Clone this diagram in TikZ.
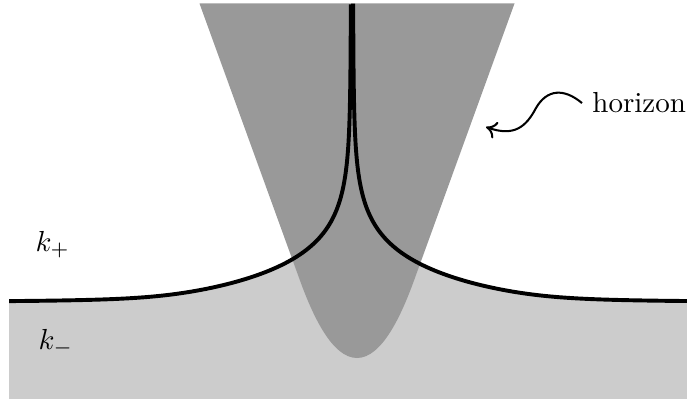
\documentclass[tikz,border=0pt]{standalone}
\usetikzlibrary{arrows.meta}
\definecolor{funnelgray}{gray}{0.6}
\definecolor{lowgray}{gray}{0.8}
\tikzset{
  curveline/.style={line width=1.35pt, line join=round},
  label/.style={inner sep=0pt, anchor=base west},
  pointer/.style={line width=0.7pt, -{To[length=3.6pt,width=6pt]}}
}
\begin{document}
\begin{tikzpicture}[x=0.345pt, y=-0.345pt,
  declare function={hw(\s)=0.4+193*exp(-exp(\s)/34)+220/exp(\s); hy(\s)=302.5-exp(\s);}]
\useasboundingbox (0,0) rectangle (687,399);
\begin{scope}
\clip (9,0) rectangle (690,399);
% lower region under the curve
\fill[lowgray] (-30,399)
  -- plot[domain=0.2:5.7, samples=170, smooth, variable=\s] ({352-hw(\s)}, {hy(\s)})
  -- plot[domain=5.7:0.2, samples=170, smooth, variable=\s] ({352+hw(\s)}, {hy(\s)})
  -- (730,399) -- cycle;
% funnel
\fill[funnelgray] (199.5,3.5) -- (299.8,280) .. controls (312.5,315) and (332,358) .. (357,358)
  .. controls (382,358) and (401.5,315) .. (414.2,280) -- (514.5,3.5) -- cycle;
% curve branches
\draw[curveline] plot[domain=0.2:5.7, samples=170, smooth, variable=\s] ({352-hw(\s)}, {hy(\s)});
\draw[curveline] plot[domain=5.7:0.2, samples=170, smooth, variable=\s] ({352+hw(\s)}, {hy(\s)});
\end{scope}
% labels
\node[label] (kp) at (35,251) {$k_+$};
\node[label] (km) at (38,349) {$k_-$};
\node[label, inner xsep=3.4pt] (hor) at (582,113) {horizon};
\coordinate (tip) at (486,127);
\draw[pointer] (hor.west) .. controls (564,88) and (547,89) .. (536,108)
  .. controls (526,127) and (514,137) .. (tip);
\end{tikzpicture}
\end{document}
